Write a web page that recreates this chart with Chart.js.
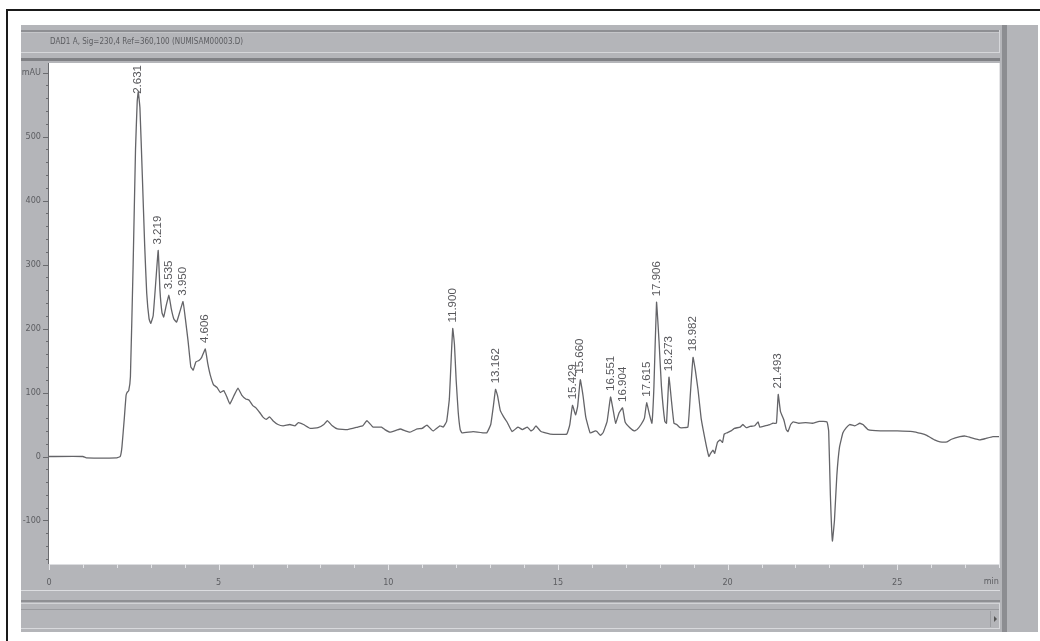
<!DOCTYPE html>
<html>
<head>
<meta charset="utf-8">
<title>DAD1 A chromatogram</title>
<script src="https://cdn.jsdelivr.net/npm/chart.js@4.4.1/dist/chart.umd.min.js"></script>
<style>
  html, body { margin: 0; padding: 0; background: #ffffff; }
  #chromatogram { display: block; }
</style>
</head>
<body>
<canvas id="chromatogram" width="1040" height="641"></canvas>
<script>
// retention time (min) and signal (mAU)
const times = [
    0, 1.0, 1.1, 2.0, 2.1, 2.15, 2.22, 2.27, 2.3, 2.35, 2.4, 2.48, 2.55, 2.6, 2.631, 2.68, 2.75, 2.82, 2.88, 2.95,
    3.0, 3.07, 3.15, 3.219, 3.27, 3.33, 3.38, 3.45, 3.535, 3.6, 3.68, 3.76, 3.85, 3.95, 4.02, 4.1, 4.18, 4.25, 4.33, 4.42,
    4.5, 4.606, 4.68, 4.75, 4.85, 4.95, 5.05, 5.15, 5.25, 5.33, 5.45, 5.57, 5.68, 5.8, 5.9, 6.0, 6.1, 6.22, 6.3, 6.4,
    6.5, 6.6, 6.75, 6.9, 7.1, 7.25, 7.35, 7.5, 7.7, 7.93, 8.1, 8.2, 8.35, 8.5, 8.8, 9.1, 9.25, 9.37, 9.55, 9.8,
    9.9, 10.05, 10.35, 10.5, 10.64, 10.85, 11.0, 11.14, 11.32, 11.52, 11.62, 11.72, 11.8, 11.86, 11.9, 11.95, 12.0, 12.06, 12.12, 12.17,
    12.5, 12.9, 13.02, 13.1, 13.162, 13.22, 13.3, 13.4, 13.5, 13.65, 13.82, 13.95, 14.1, 14.2, 14.27, 14.35, 14.5, 14.77, 15.26, 15.35,
    15.429, 15.52, 15.58, 15.66, 15.74, 15.82, 15.95, 16.1, 16.15, 16.25, 16.33, 16.45, 16.551, 16.62, 16.7, 16.8, 16.904, 16.98, 17.12, 17.25,
    17.33, 17.45, 17.55, 17.615, 17.7, 17.77, 17.83, 17.906, 17.98, 18.05, 18.15, 18.2, 18.273, 18.35, 18.42, 18.5, 18.6, 18.83, 18.9, 18.982,
    19.05, 19.13, 19.22, 19.28, 19.38, 19.45, 19.5, 19.57, 19.62, 19.7, 19.78, 19.85, 19.9, 19.98, 20.1, 20.2, 20.37, 20.45, 20.55, 20.66,
    20.8, 20.9, 20.95, 21.1, 21.25, 21.34, 21.44, 21.493, 21.56, 21.66, 21.73, 21.78, 21.86, 21.93, 22.1, 22.3, 22.5, 22.7, 22.93, 22.98,
    23.03, 23.09, 23.15, 23.22, 23.3, 23.4, 23.5, 23.6, 23.75, 23.9, 23.99, 24.14, 24.5, 25.0, 25.46, 25.7, 25.87, 26.1, 26.26, 26.47,
    26.6, 26.85, 27.0, 27.15, 27.44, 27.6, 27.82, 28.0
];
const signal = [
    0, 0, -2, -2, 0, 15, 60, 95, 100, 103, 125, 300, 480, 555, 570, 545, 440, 330, 255, 215,
    208, 220, 275, 322, 260, 225, 218, 235, 252, 232, 215, 210, 225, 242, 215, 180, 140, 135, 148, 150,
    155, 168, 145, 128, 112, 108, 100, 103, 92, 82, 95, 107, 96, 90, 88, 80, 76, 68, 62, 58,
    62, 56, 50, 48, 50, 48, 53, 50, 44, 45, 50, 56, 48, 43, 42, 46, 48, 56, 46, 46,
    42, 38, 43, 40, 38, 43, 44, 49, 40, 48, 46, 55, 90, 160, 200, 175, 120, 70, 42, 37,
    39, 37, 50, 80, 105, 95, 72, 62, 54, 39, 46, 42, 46, 40, 42, 48, 39, 35, 35, 50,
    80, 65, 78, 120, 95, 62, 37, 40, 39, 33, 37, 55, 93, 75, 52, 68, 76, 54, 45, 40,
    42, 50, 60, 84, 65, 52, 110, 241, 180, 110, 55, 52, 124, 85, 52, 50, 45, 46, 95, 155,
    135, 104, 60, 42, 15, 0, 5, 10, 5, 22, 26, 22, 35, 37, 40, 44, 46, 50, 45, 47,
    48, 54, 46, 48, 50, 52, 52, 97, 70, 57, 42, 39, 50, 54, 52, 53, 52, 55, 54, 40,
    -60, -132, -100, -30, 15, 37, 45, 50, 48, 52, 50, 42, 40, 40, 39, 36, 33, 26, 23, 23,
    27, 31, 32, 30, 26, 28, 31, 31
];

// integrated peaks and their labels
const peakTimes = [2.631, 3.219, 3.535, 3.950, 4.606, 11.900, 13.162, 15.429, 15.660, 16.551, 16.904, 17.615, 17.906, 18.273, 18.982, 21.493];
const peakLabels = ['2.631', '3.219', '3.535', '3.950', '4.606', '11.900', '13.162', '15.429', '15.660', '16.551', '16.904', '17.615', '17.906', '18.273', '18.982', '21.493'];

// axes
const xTickValues = [0, 5, 10, 15, 20, 25];
const xTickLabels = ['0', '5', '10', '15', '20', '25'];
const yTickValues = [-100, 0, 100, 200, 300, 400, 500, 600];
const yTickLabels = ['-100', '0', '100', '200', '300', '400', '500', 'mAU'];
const titleText = 'DAD1 A, Sig=230,4 Ref=360,100 (NUMISAM00003.D)';

const axisFont = '9px "DejaVu Sans Condensed", "Liberation Sans Narrow", sans-serif';
const panelGray = '#b4b5b9';

function peakValue(t) {
    let best = -Infinity;
    times.forEach((x, i) => {
        if (Math.abs(x - t) < 0.04 && signal[i] > best) best = signal[i];
    });
    return best;
}

// window decoration of the data-analysis screen
const screenFrame = {
    id: 'screenFrame',
    beforeDraw(chart) {
        const ctx = chart.ctx;
        const a = chart.chartArea;
        ctx.save();
        ctx.fillStyle = '#ffffff';
        ctx.fillRect(0, 0, chart.width, chart.height);
        // black outer border
        ctx.fillStyle = '#1a1a1a';
        ctx.fillRect(7, 9, 1033, 2);
        ctx.fillRect(6, 9, 2, 632);
        // gray panel
        ctx.fillStyle = panelGray;
        ctx.fillRect(21, 25, 1017, 607);
        // title bar
        ctx.fillStyle = '#8e8f93';
        ctx.fillRect(21, 30, 979, 2);
        ctx.fillStyle = '#c5c6c9';
        ctx.fillRect(21, 32, 979, 1);
        ctx.fillStyle = '#d6d7da';
        ctx.fillRect(21, 52, 979, 1);
        ctx.fillRect(999, 30, 1, 23);
        ctx.fillStyle = '#808185';
        ctx.fillRect(21, 58, 979, 3);
        ctx.fillStyle = '#5c5d61';
        ctx.font = '8px "DejaVu Sans Condensed", "Liberation Sans Narrow", sans-serif';
        ctx.textBaseline = 'middle';
        ctx.fillText(titleText, 50, 42);
        // right strip
        ctx.fillStyle = '#8c8d91';
        ctx.fillRect(1002, 25, 5, 607);
        // bottom bands and scroll bar
        ctx.fillStyle = '#dcdde0';
        ctx.fillRect(21, 590, 979, 1);
        ctx.fillStyle = '#8e8f93';
        ctx.fillRect(21, 600, 979, 2);
        ctx.fillStyle = '#d2d3d6';
        ctx.fillRect(21, 603, 979, 1);
        ctx.fillStyle = '#9a9b9f';
        ctx.fillRect(21, 609, 979, 1);
        ctx.fillStyle = '#d8d9dc';
        ctx.fillRect(21, 628, 979, 1);
        ctx.fillRect(999, 603, 1, 26);
        ctx.fillStyle = '#9c9da1';
        ctx.fillRect(990, 611, 1, 16);
        ctx.fillStyle = '#555';
        ctx.beginPath();
        ctx.moveTo(994, 616);
        ctx.lineTo(997, 619);
        ctx.lineTo(994, 622);
        ctx.closePath();
        ctx.fill();
        // plot area
        ctx.fillStyle = '#ffffff';
        ctx.fillRect(a.left, a.top, a.right - a.left, a.bottom - a.top);
        ctx.fillStyle = '#e6e6e8';
        ctx.fillRect(a.right, a.top, 1, a.bottom - a.top);
        ctx.fillStyle = '#dcdde0';
        ctx.fillRect(a.left, a.bottom, a.right - a.left + 1, 1);
        ctx.restore();
    },
    afterDraw(chart) {
        const ctx = chart.ctx;
        const a = chart.chartArea;
        const xs = chart.scales.x;
        const ys = chart.scales.y;
        ctx.save();
        // y tick marks: majors every 100, minors every 20
        ctx.fillStyle = '#6a6b6f';
        for (let v = -160; v <= 600; v += 20) {
            const y = Math.round(ys.getPixelForValue(v));
            const len = v % 100 === 0 ? 6 : 3;
            ctx.fillRect(a.left - len, y, len, 1);
        }
        ctx.fillRect(a.left - 1, a.top, 1, a.bottom - a.top);
        // x tick marks: every minute
        ctx.fillStyle = '#e4e5e8';
        for (let t = 0; t <= 28; t += 1) {
            const x = Math.round(xs.getPixelForValue(t));
            ctx.fillRect(x, a.bottom, 1, t % 5 === 0 ? 6 : 4);
        }
        ctx.fillStyle = '#5c5d61';
        ctx.font = axisFont;
        ctx.textAlign = 'right';
        ctx.textBaseline = 'middle';
        ctx.fillText('min', a.right, 582);
        ctx.restore();
    },
    afterDatasetsDraw(chart) {
        const ctx = chart.ctx;
        const a = chart.chartArea;
        const xs = chart.scales.x;
        const ys = chart.scales.y;
        ctx.save();
        ctx.fillStyle = '#58585c';
        ctx.font = '11.5px "Liberation Sans", Arial, sans-serif';
        ctx.textBaseline = 'middle';
        ctx.textAlign = 'left';
        peakTimes.forEach((t, i) => {
            const label = peakLabels[i];
            const x = xs.getPixelForValue(t);
            const w = ctx.measureText(label).width;
            let start = ys.getPixelForValue(peakValue(t)) - 6;
            if (start - w < a.top + 2) start = a.top + 2 + w;
            ctx.save();
            ctx.translate(x, start);
            ctx.rotate(-Math.PI / 2);
            ctx.fillText(label, 0, 0);
            ctx.restore();
        });
        ctx.restore();
    }
};

Chart.defaults.font.family = '"DejaVu Sans Condensed", "Liberation Sans Narrow", sans-serif';
Chart.defaults.font.size = 9;
Chart.defaults.color = '#5c5d61';

const chart = new Chart(document.getElementById('chromatogram'), {
    type: 'line',
    data: {
        datasets: [{
            data: times.map((t, i) => ({ x: t, y: signal[i] })),
            borderColor: '#646468',
            borderWidth: 1.3,
            pointRadius: 0,
            tension: 0.1,
            fill: false
        }]
    },
    options: {
        responsive: false,
        animation: false,
        devicePixelRatio: 1,
        layout: { padding: { left: 21, right: 41, top: 63, bottom: 49 } },
        plugins: {
            legend: { display: false },
            tooltip: { enabled: false }
        },
        scales: {
            x: {
                type: 'linear',
                min: 0,
                max: 28,
                afterFit: (scale) => { scale.height = 28; },
                afterBuildTicks: (scale) => { scale.ticks = xTickValues.map(v => ({ value: v })); },
                ticks: {
                    autoSkip: false,
                    maxRotation: 0,
                    padding: 13,
                    callback: (v) => xTickLabels[xTickValues.indexOf(v)]
                },
                grid: { display: false, drawTicks: false },
                border: { display: false }
            },
            y: {
                type: 'linear',
                min: -168,
                max: 615,
                afterFit: (scale) => { scale.width = 28; },
                afterBuildTicks: (scale) => { scale.ticks = yTickValues.map(v => ({ value: v })); },
                ticks: {
                    autoSkip: false,
                    padding: 8,
                    callback: (v) => yTickLabels[yTickValues.indexOf(v)]
                },
                grid: { display: false, drawTicks: false },
                border: { display: false }
            }
        }
    },
    plugins: [screenFrame]
});
</script>
</body>
</html>
